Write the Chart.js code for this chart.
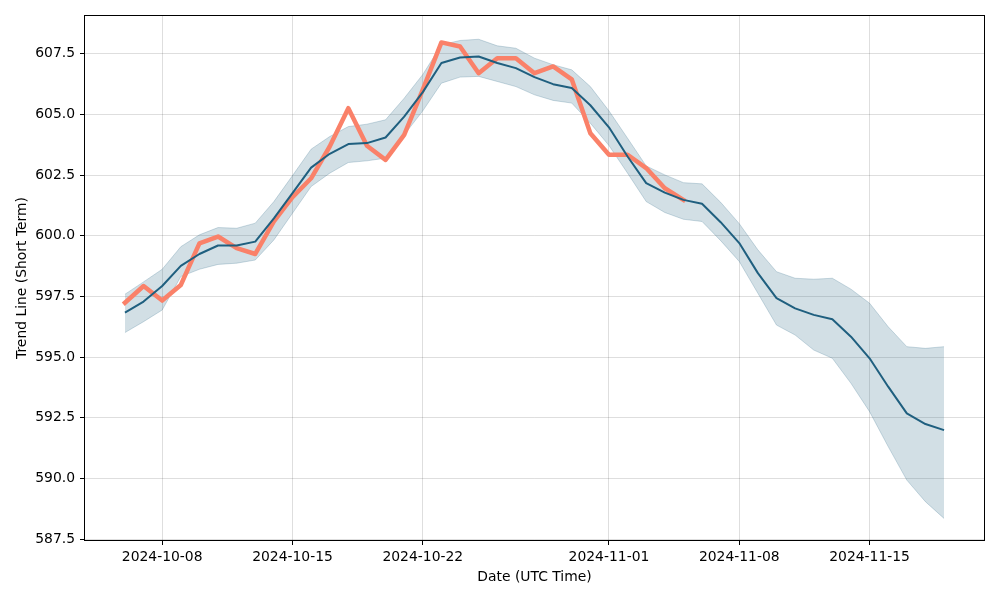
<!DOCTYPE html>
<html>
<head>
<meta charset="utf-8">
<script src="https://cdn.jsdelivr.net/npm/chart.js@4.4.1/dist/chart.umd.min.js"></script>
<style>
  html, body { margin: 0; padding: 0; background: #ffffff; }
  #wrap { width: 1000px; height: 600px; position: relative; }
</style>
</head>
<body>
<div id="wrap"><canvas id="c" width="1000" height="600"></canvas></div>
<script>
// ---- Data ----
const dates = [
  '2024-10-06','2024-10-07','2024-10-08','2024-10-09','2024-10-10','2024-10-11','2024-10-12','2024-10-13',
  '2024-10-14','2024-10-15','2024-10-16','2024-10-17','2024-10-18','2024-10-19','2024-10-20','2024-10-21',
  '2024-10-22','2024-10-23','2024-10-24','2024-10-25','2024-10-26','2024-10-27','2024-10-28','2024-10-29',
  '2024-10-30','2024-10-31','2024-11-01','2024-11-02','2024-11-03','2024-11-04','2024-11-05','2024-11-06',
  '2024-11-07','2024-11-08','2024-11-09','2024-11-10','2024-11-11','2024-11-12','2024-11-13','2024-11-14',
  '2024-11-15','2024-11-16','2024-11-17','2024-11-18','2024-11-19'
];

const trendLine = [
  596.83, 597.29, 597.93, 598.76, 599.25, 599.60, 599.60, 599.76,
  600.72, 601.76, 602.81, 603.38, 603.78, 603.82, 604.05, 604.91,
  605.92, 607.12, 607.35, 607.39, 607.12, 606.91, 606.54, 606.25,
  606.09, 605.38, 604.47, 603.27, 602.17, 601.78, 601.48, 601.32,
  600.56, 599.70, 598.46, 597.43, 597.01, 596.74, 596.56, 595.84,
  594.95, 593.78, 592.68, 592.24, 591.99
];

const upperBand = [
  597.59, 598.10, 598.62, 599.55, 600.04, 600.34, 600.31, 600.52,
  601.41, 602.48, 603.57, 604.09, 604.50, 604.60, 604.78, 605.67,
  606.65, 607.87, 608.05, 608.10, 607.83, 607.73, 607.32, 607.05,
  606.84, 606.15, 605.15, 604.02, 602.88, 602.51, 602.19, 602.14,
  601.38, 600.50, 599.42, 598.52, 598.25, 598.21, 598.25, 597.80,
  597.22, 596.25, 595.43, 595.36, 595.43
];

const lowerBand = [
  596.01, 596.46, 596.94, 598.32, 598.62, 598.82, 598.87, 599.00,
  599.83, 600.93, 602.03, 602.58, 603.02, 603.09, 603.20, 604.16,
  605.15, 606.29, 606.54, 606.57, 606.36, 606.15, 605.81, 605.58,
  605.47, 604.64, 603.72, 602.58, 601.41, 600.96, 600.68, 600.59,
  599.80, 598.94, 597.63, 596.32, 595.91, 595.29, 594.95, 593.92,
  592.75, 591.31, 589.93, 589.04, 588.35
];

const actualDates = dates.slice(0, 31);
const actualValues = [
  597.24, 597.93, 597.33, 597.97, 599.69, 599.97, 599.49, 599.25,
  600.59, 601.59, 602.37, 603.68, 605.26, 603.71, 603.13, 604.16,
  606.02, 607.97, 607.80, 606.70, 607.32, 607.32, 606.70, 606.98,
  606.45, 604.23, 603.34, 603.34, 602.79, 601.96, 601.48
];

const xTickLabels = ['2024-10-08','2024-10-15','2024-10-22','2024-11-01','2024-11-08','2024-11-15'];
const yTickValues = [587.5, 590.0, 592.5, 595.0, 597.5, 600.0, 602.5, 605.0, 607.5];

// ---- Helpers ----
const DAY = 86400000;
function dayNum(s) { return Date.parse(s + 'T00:00:00Z') / DAY; }
function fmtDay(d) { return new Date(Math.round(d) * DAY).toISOString().slice(0, 10); }
function pts(xs, ys) { return ys.map((v, i) => ({ x: dayNum(xs[i]), y: v })); }

const xFirst = dayNum(dates[0]);
const xLast = dayNum(dates[dates.length - 1]);
const xPad = (xLast - xFirst) * 0.05;

const FONT = { family: "'DejaVu Sans', sans-serif", size: 13.9 };

const frame = {
  id: 'frame',
  afterDraw(chart) {
    const { ctx, chartArea: a } = chart;
    const l = Math.round(a.left) + 0.5, t = Math.round(a.top) + 0.5;
    const r = Math.round(a.right) - 0.5, b = Math.round(a.bottom) - 0.5;
    ctx.save();
    ctx.strokeStyle = '#000';
    ctx.lineWidth = 1;
    ctx.strokeRect(l, t, r - l, b - t);
    ctx.restore();
  }
};

new Chart(document.getElementById('c'), {
  type: 'line',
  data: {
    datasets: [
      {
        label: 'upper',
        data: pts(dates, upperBand),
        borderColor: 'rgba(31,95,127,0.22)',
        borderWidth: 1,
        backgroundColor: 'rgba(31,95,127,0.2)',
        pointRadius: 0,
        fill: '+1',
        order: 3
      },
      {
        label: 'lower',
        data: pts(dates, lowerBand),
        borderColor: 'rgba(31,95,127,0.22)',
        borderWidth: 1,
        pointRadius: 0,
        fill: false,
        order: 3
      },
      {
        label: 'actual',
        data: pts(actualDates, actualValues),
        borderColor: '#FA8169',
        borderWidth: 4.5,
        borderJoinStyle: 'round',
        borderCapStyle: 'square',
        pointRadius: 0,
        fill: false,
        order: 2
      },
      {
        label: 'trend',
        data: pts(dates, trendLine),
        borderColor: '#1F5F7F',
        borderWidth: 2,
        borderJoinStyle: 'round',
        pointRadius: 0,
        fill: false,
        order: 1
      }
    ]
  },
  options: {
    responsive: false,
    animation: false,
    devicePixelRatio: 1,
    layout: { padding: { left: 0, top: 15, right: 15, bottom: 0 } },
    plugins: {
      legend: { display: false },
      tooltip: { enabled: false },
      filler: { propagate: false }
    },
    elements: { line: { tension: 0 } },
    scales: {
      x: {
        type: 'linear',
        min: xFirst - xPad,
        max: xLast + xPad,
        afterBuildTicks(scale) { scale.ticks = xTickLabels.map(l => ({ value: dayNum(l) })); },
        afterFit(scale) { scale.height = 59; },
        ticks: {
          color: '#000',
          font: FONT,
          padding: 4,
          maxRotation: 0,
          autoSkip: false,
          callback: (v) => fmtDay(v)
        },
        grid: { color: 'rgba(0,0,0,0.13)', tickColor: '#000', tickLength: 4, lineWidth: 1 },
        border: { display: false },
        title: { display: true, text: 'Date (UTC Time)', color: '#000', font: FONT, padding: { top: 0, bottom: 14 } }
      },
      y: {
        type: 'linear',
        min: 587.42,
        max: 609.1,
        afterBuildTicks(scale) { scale.ticks = yTickValues.map(v => ({ value: v })); },
        afterFit(scale) { scale.width = 84; },
        ticks: {
          color: '#000',
          font: FONT,
          padding: 5,
          autoSkip: false,
          callback: (v) => Number(v).toFixed(1)
        },
        grid: { color: 'rgba(0,0,0,0.13)', tickColor: '#000', tickLength: 4, lineWidth: 1 },
        border: { display: false },
        title: { display: true, text: 'Trend Line (Short Term)', color: '#000', font: FONT, padding: { top: 14, bottom: 0 } }
      }
    }
  },
  plugins: [frame]
});
</script>
</body>
</html>
